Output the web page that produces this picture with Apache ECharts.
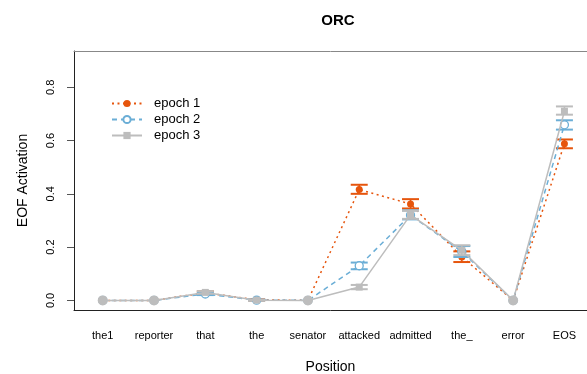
<!DOCTYPE html>
<html><head><meta charset="utf-8">
<script src="https://cdn.jsdelivr.net/npm/echarts@6/dist/echarts.min.js"></script>
<style>html,body{margin:0;padding:0;background:#fff}#c{width:587px;height:374px}</style>
</head><body><div id="c"></div>
<script>
var categories = ['the1','reporter','that','the','senator','attacked','admitted','the_','error','EOS'];
var seriesNames = ['epoch 1','epoch 2','epoch 3'];
var epoch1 = [0, 0, 0.029, 0.002, 0, 0.416, 0.362, 0.163, 0, 0.588];
var epoch1Low = [0, 0, 0.024, 0, 0, 0.400, 0.345, 0.144, 0, 0.571];
var epoch1High = [0, 0, 0.034, 0.004, 0, 0.434, 0.380, 0.184, 0, 0.604];
var epoch2 = [0, 0, 0.024, 0.001, 0, 0.130, 0.320, 0.183, 0, 0.659];
var epoch2Low = [0, 0, 0.020, 0, 0, 0.117, 0.304, 0.163, 0, 0.641];
var epoch2High = [0, 0, 0.028, 0.003, 0, 0.142, 0.338, 0.204, 0, 0.676];
var epoch3 = [0, 0, 0.030, 0.001, 0, 0.050, 0.321, 0.188, 0, 0.710];
var epoch3Low = [0, 0, 0.025, 0, 0, 0.042, 0.306, 0.170, 0, 0.697];
var epoch3High = [0, 0, 0.035, 0.003, 0, 0.058, 0.336, 0.207, 0, 0.728];
var yTicks = [0, 0.2, 0.4, 0.6, 0.8];
var colors = ['#E6550D', '#6BAED6', '#BDBDBD'];

var FONT = 'Liberation Sans, Arial, sans-serif';
var xs = categories.map(function(c, i){ return i + 1; });
function pts(vals){ return vals.map(function(v, i){ return [xs[i], v]; }); }
function errData(lo, hi){ return lo.map(function(l, i){ return [xs[i], l, hi[i]]; }); }

function errSeries(lo, hi, color, z){
  return {
    type: 'custom', xAxisIndex: 0, yAxisIndex: 0, z: z, silent: true,
    data: errData(lo, hi),
    renderItem: function(params, api){
      if (api.value(2) - api.value(1) <= 0) return null;
      var a = api.coord([api.value(0), api.value(1)]);
      var b = api.coord([api.value(0), api.value(2)]);
      var w = 8.5;
      var st = {stroke: color, lineWidth: 2};
      return {type: 'group', children: [
        {type: 'line', shape: {x1: a[0], y1: a[1], x2: b[0], y2: b[1]}, style: {stroke: color, lineWidth: 1.5}},
        {type: 'line', shape: {x1: a[0]-w, y1: a[1], x2: a[0]+w, y2: a[1]}, style: st},
        {type: 'line', shape: {x1: b[0]-w, y1: b[1], x2: b[0]+w, y2: b[1]}, style: st}
      ]};
    }
  };
}

var chart = echarts.init(document.getElementById('c'), null, {renderer: 'canvas'});
var epoch3Data = epoch3.map(function(v, i){
  var d = {value: [xs[i], v]};
  if (v === 0) { d.symbol = 'circle'; d.symbolSize = 10; }
  return d;
});
chart.setOption({
  animation: false,
  backgroundColor: '#fff',
  title: {text: 'ORC', left: 333, top: 8, textAlign: 'center',
    textStyle: {fontFamily: FONT, fontSize: 15, fontWeight: 'bold', color: '#000'}},
  legend: {
    left: 106, top: 92, orient: 'vertical', itemWidth: 30, itemHeight: 9, itemGap: 3,
    textStyle: {fontFamily: FONT, fontSize: 13, color: '#000', padding: [0,0,0,7]},
    data: seriesNames
  },
  grid: {left: 74, right: 0, top: 51, bottom: 64, outerBoundsMode: 'none', containLabel: false},
  xAxis: [{
    type: 'value', min: 0.44, max: 10.44, position: 'bottom',
    name: 'Position', nameLocation: 'middle', nameGap: 50,
    nameTextStyle: {fontFamily: FONT, fontSize: 14, color: '#000'},
    axisLine: {show: true, onZero: false, lineStyle: {color: '#222', width: 1}},
    axisTick: {show: false},
    splitLine: {show: false},
    axisLabel: {customValues: xs, margin: 20, fontFamily: FONT, fontSize: 11, color: '#000',
      formatter: function(v){ return categories[Math.round(v) - 1] || ''; }}
  }, {
    type: 'value', min: 0.44, max: 10.44, position: 'top',
    axisLine: {show: true, onZero: false, lineStyle: {color: '#888', width: 1}},
    axisTick: {show: false}, axisLabel: {show: false}, splitLine: {show: false}
  }],
  yAxis: {
    type: 'value', min: -0.036, max: 0.936,
    name: 'EOF Activation', nameLocation: 'middle', nameGap: 44, nameRotate: 90,
    nameTextStyle: {fontFamily: FONT, fontSize: 14, color: '#000'},
    axisLine: {show: true, onZero: false, lineStyle: {color: '#222', width: 1}},
    axisTick: {show: true, customValues: yTicks, length: 7, lineStyle: {color: '#555'}},
    splitLine: {show: false},
    axisLabel: {customValues: yTicks, rotate: 90, margin: 18, fontFamily: FONT, fontSize: 11, color: '#000',
      formatter: function(v){ return v.toFixed(1); }}
  },
  series: [
    errSeries(epoch1Low, epoch1High, colors[0], 2),
    {name: seriesNames[0], type: 'line', z: 3, data: pts(epoch1), color: colors[0],
      symbol: 'circle', symbolSize: 7, showSymbol: true,
      itemStyle: {color: colors[0]},
      lineStyle: {color: colors[0], width: 1.5, type: [2, 3.5]}},
    errSeries(epoch2Low, epoch2High, colors[1], 4),
    {name: seriesNames[1], type: 'line', z: 5, data: pts(epoch2), color: colors[1],
      symbol: 'circle', symbolSize: 8, showSymbol: true,
      itemStyle: {color: '#fff', borderColor: colors[1], borderWidth: 1.3},
      lineStyle: {color: colors[1], width: 1.5, type: [5, 4]}},
    errSeries(epoch3Low, epoch3High, colors[2], 6),
    {name: seriesNames[2], type: 'line', z: 7, data: epoch3Data, color: colors[2],
      symbol: 'rect', symbolSize: 7, showSymbol: true,
      itemStyle: {color: colors[2]},
      lineStyle: {color: colors[2], width: 1.5, type: 'solid'}}
  ]
});
</script></body></html>
